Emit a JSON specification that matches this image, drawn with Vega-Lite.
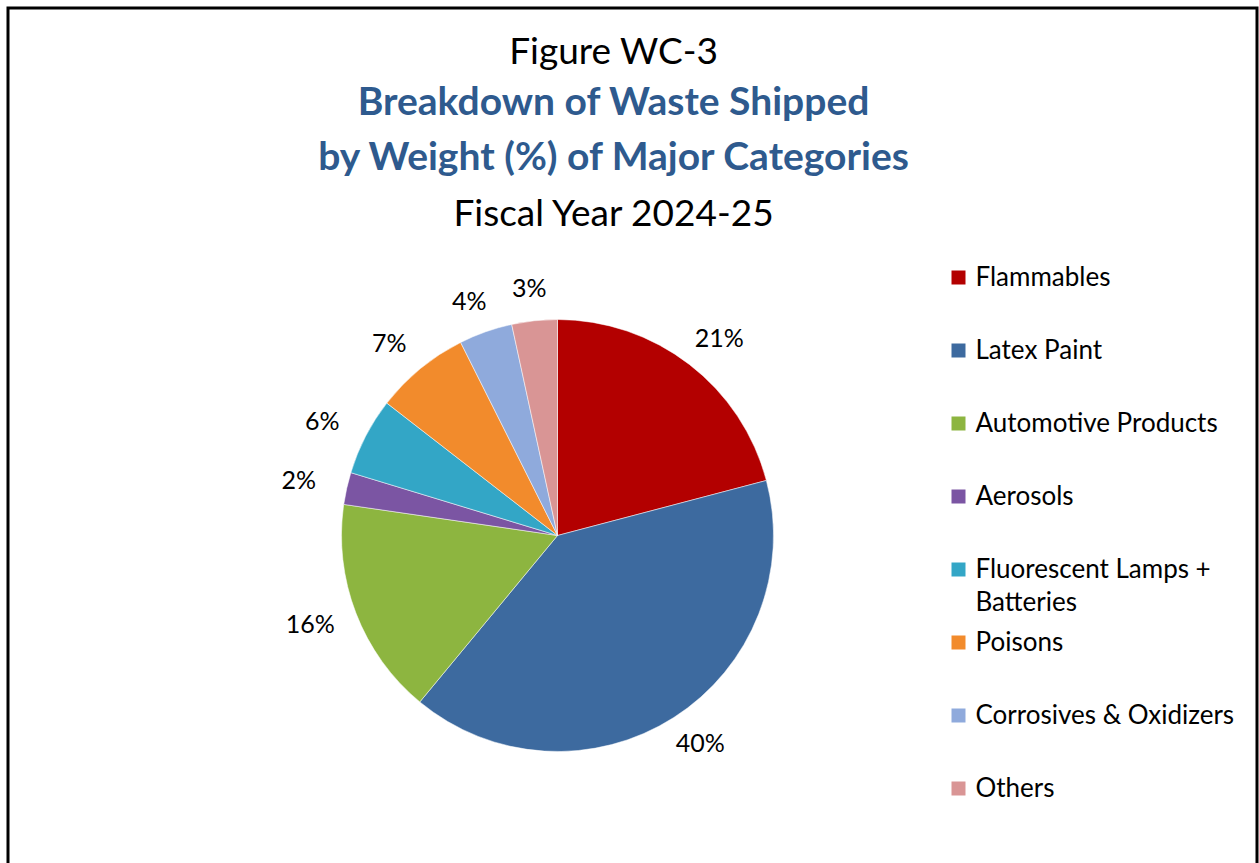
{
  "$schema": "https://vega.github.io/schema/vega-lite/v6.json",
  "padding": {"left": 6, "top": 6, "right": 1, "bottom": -6},
  "background": "white",
  "title": {
    "text": "Figure WC-3",
    "subtitle": ["Breakdown of Waste Shipped", "by Weight (%) of Major Categories"],
    "anchor": "middle",
    "dx": -19,
    "offset": -172,
    "font": "Lato",
    "fontSize": 37,
    "fontWeight": "normal",
    "color": "#000000",
    "subtitleFont": "Lato",
    "subtitleFontSize": 39,
    "subtitleFontWeight": "bold",
    "subtitleColor": "#2E5A8E",
    "subtitleLineHeight": 55,
    "subtitlePadding": 12
  },
  "datasets": {
    "waste": [
      {"order": 1, "category": "Flammables", "pct": 20.9, "label": "21%"},
      {"order": 2, "category": "Latex Paint", "pct": 40.1, "label": "40%"},
      {"order": 3, "category": "Automotive Products", "pct": 16.3, "label": "16%"},
      {"order": 4, "category": "Aerosols", "pct": 2.4, "label": "2%"},
      {"order": 5, "category": "Fluorescent Lamps + Batteries", "pct": 5.8, "label": "6%"},
      {"order": 6, "category": "Poisons", "pct": 7.1, "label": "7%"},
      {"order": 7, "category": "Corrosives & Oxidizers", "pct": 4.0, "label": "4%"},
      {"order": 8, "category": "Others", "pct": 3.4, "label": "3%"}
    ]
  },
  "vconcat": [
    {
      "title": {
        "text": "Fiscal Year 2024-25",
        "anchor": "middle",
        "dx": -19,
        "offset": -226,
        "font": "Lato",
        "fontSize": 37,
        "fontWeight": "normal",
        "color": "#000000"
      },
      "width": 1249,
      "height": 860,
      "view": {"stroke": "#000000", "strokeWidth": 3},
      "data": {"name": "waste"},
      "encoding": {
        "theta": {"field": "pct", "type": "quantitative", "stack": true},
        "order": {"field": "order", "type": "quantitative"}
      },
      "layer": [
        {
          "mark": {"type": "arc", "outerRadius": 216, "x": 549.5, "y": 527.5, "stroke": "#ffffff", "strokeWidth": 1, "strokeOpacity": 0.5},
          "encoding": {
            "color": {
              "field": "category",
              "type": "nominal",
              "scale": {
                "domain": ["Flammables", "Latex Paint", "Automotive Products", "Aerosols", "Fluorescent Lamps + Batteries", "Poisons", "Corrosives & Oxidizers", "Others"],
                "range": ["#B30000", "#3D6A9F", "#8DB540", "#7B55A3", "#33A6C6", "#F28B2C", "#8FAADC", "#D99595"]
              },
              "legend": {
                "orient": "none",
                "legendX": 937.5,
                "legendY": 256.5,
                "title": null,
                "symbolType": "square",
                "symbolSize": 196,
                "symbolStrokeWidth": 0,
                "symbolOpacity": 1,
                "labelFont": "Lato",
                "labelFontSize": 26,
                "labelColor": "#000000",
                "labelOffset": 4,
                "labelLimit": 400,
                "rowPadding": 14,
                "labelExpr": "datum.label == 'Fluorescent Lamps + Batteries' ? ['Fluorescent Lamps +', 'Batteries'] : [datum.label, '']"
              }
            }
          }
        },
        {
          "mark": {
            "type": "text",
            "radius": 248,
            "x": 549.5,
            "y": 527.5,
            "dx": {"expr": "17 * sin(PI * (datum.pct_start + datum.pct_end) / 100)"},
            "font": "Lato",
            "fontSize": 25,
            "color": "#000000"
          },
          "encoding": {
            "text": {"field": "label", "type": "nominal"}
          }
        }
      ]
    }
  ],
  "config": {
    "view": {"stroke": "#000000", "strokeWidth": 3},
    "style": {"guide-label": {"lineHeight": 33}}
  }
}
